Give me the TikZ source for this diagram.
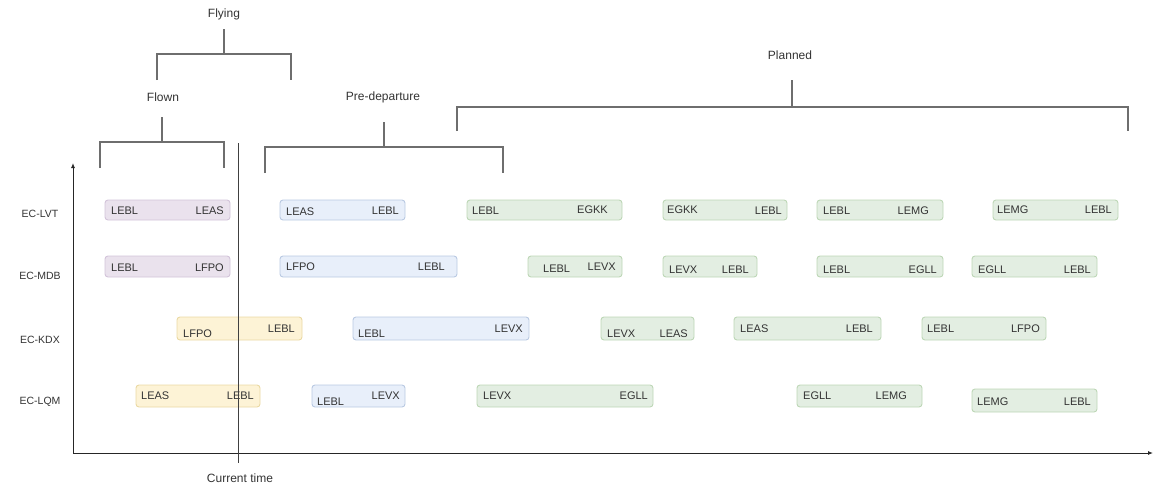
\documentclass[tikz,border=0pt]{standalone}
\usepackage{fontspec}
\setmainfont{Liberation Sans}
\usetikzlibrary{fit,arrows.meta}
\definecolor{pfill}{HTML}{EAE2ED}\definecolor{pline}{HTML}{D2C3D9}
\definecolor{bfill}{HTML}{E8EFFA}\definecolor{bline}{HTML}{B9C9E2}
\definecolor{gfill}{HTML}{E3EEE2}\definecolor{gline}{HTML}{BDD7B6}
\definecolor{yfill}{HTML}{FDF3D6}\definecolor{yline}{HTML}{EAD9A3}
\definecolor{txtc}{HTML}{333333}
\definecolor{brc}{HTML}{6E6E6E}
\tikzset{
  flt/.style={rounded corners=3pt, line width=0.9pt, inner sep=0pt},
  pbox/.style={flt, draw=pline, fill=pfill},
  bbox/.style={flt, draw=bline, fill=bfill},
  gbox/.style={flt, draw=gline, fill=gfill},
  ybox/.style={flt, draw=yline, fill=yfill},
  txt/.style={inner sep=0pt, text=txtc, font=\fontsize{11}{13}\selectfont},
  rowlbl/.style={inner sep=0pt, text=txtc, font=\fontsize{10.5}{12}\selectfont},
  grp/.style={inner sep=0pt, text=txtc, font=\fontsize{12}{14}\selectfont},
  br/.style={draw=brc, line width=1.4pt},
  axis/.style={draw=black!85, line width=0.9pt},
}
\newcommand\flbox[6]{\node[#1, fit={(#2,#3) (#4,#5)}] (#6) {};}
\newcommand\tl[3]{\node[txt, anchor=west] at (#1,#2) {#3};}
\newcommand\tr[3]{\node[txt, anchor=east] at (#1,#2) {#3};}
\begin{document}
\begin{tikzpicture}[x=1pt,y=-1pt]
\useasboundingbox (0,0) rectangle (1156,488);
% group labels and brackets
\node[grp] (flying) at (224,14) {Flying};
\node[grp] (flown) at (163,97) {Flown};
\node[grp] (predep) at (383,97) {Pre-departure};
\node[grp] (planned) at (790,55) {Planned};
\draw[br] (224,29) -- (224,54);
\draw[br] (157,80) -- (157,54) -- (291,54) -- (291,80);
\draw[br] (162,117) -- (162,142);
\draw[br] (100,168) -- (100,142) -- (224,142) -- (224,168);
\draw[br] (384,122) -- (384,147);
\draw[br] (265,173) -- (265,147) -- (503,147) -- (503,173);
\draw[br] (792,80) -- (792,107);
\draw[br] (457,131) -- (457,107) -- (1128,107) -- (1128,131);
% axes
\coordinate (origin) at (73,453);
\coordinate (ytop) at (73,163);
\coordinate (xend) at (1153,453);
\draw[axis, -{Latex[length=5pt,width=4pt]}] (origin) -- (ytop);
\draw[axis, -{Latex[length=5pt,width=4pt]}] (origin) -- (xend);
% row labels
\node[rowlbl] (lvt) at (40,214) {EC-LVT};
\node[rowlbl] (mdb) at (40,276) {EC-MDB};
\node[rowlbl] (kdx) at (40,340) {EC-KDX};
\node[rowlbl] (lqm) at (40,402) {EC-LQM};
% EC-LVT
\flbox{pbox}{105}{200}{230}{220}{a1}
\tl{111}{211}{LEBL}\tr{224}{211}{LEAS}
\flbox{bbox}{280}{200}{405}{220}{a2}
\tl{286}{212}{LEAS}\tr{399}{211}{LEBL}
\flbox{gbox}{467}{200}{622}{220}{a3}
\tl{472}{211}{LEBL}\tr{608}{210}{EGKK}
\flbox{gbox}{663}{200}{787}{220}{a4}
\tl{667}{210}{EGKK}\tr{782}{211}{LEBL}
\flbox{gbox}{817}{200}{943}{220}{a5}
\tl{823}{211}{LEBL}\tr{929}{211}{LEMG}
\flbox{gbox}{993}{200}{1118}{220}{a6}
\tl{997}{210}{LEMG}\tr{1112}{210}{LEBL}
% EC-MDB
\flbox{pbox}{105}{256}{230}{277}{b1}
\tl{111}{268}{LEBL}\tr{224}{268}{LFPO}
\flbox{bbox}{280}{256}{457}{277}{b2}
\tl{286}{267}{LFPO}\tr{445}{267}{LEBL}
\flbox{gbox}{528}{256}{622}{277}{b3}
\tl{543}{269}{LEBL}\tr{616}{267}{LEVX}
\flbox{gbox}{663}{256}{757}{277}{b4}
\tl{669}{270}{LEVX}\tr{749}{270}{LEBL}
\flbox{gbox}{817}{256}{943}{277}{b5}
\tl{823}{270}{LEBL}\tr{937}{270}{EGLL}
\flbox{gbox}{972}{256}{1097}{277}{b6}
\tl{978}{270}{EGLL}\tr{1091}{270}{LEBL}
% EC-KDX
\flbox{ybox}{177}{317}{302}{340}{c1}
\tl{183}{334}{LFPO}\tr{295}{329}{LEBL}
\flbox{bbox}{353}{317}{529}{340}{c2}
\tl{358}{334}{LEBL}\tr{523}{329}{LEVX}
\flbox{gbox}{601}{317}{694}{340}{c3}
\tl{607}{334}{LEVX}\tr{688}{334}{LEAS}
\flbox{gbox}{734}{317}{881}{340}{c4}
\tl{740}{329}{LEAS}\tr{873}{329}{LEBL}
\flbox{gbox}{922}{317}{1046}{340}{c5}
\tl{927}{329}{LEBL}\tr{1040}{329}{LFPO}
% EC-LQM
\flbox{ybox}{136}{385}{260}{407}{d1}
\tl{141}{396}{LEAS}\tr{254}{396}{LEBL}
\flbox{bbox}{312}{385}{405}{407}{d2}
\tl{317}{402}{LEBL}\tr{400}{396}{LEVX}
\flbox{gbox}{477}{385}{653}{407}{d3}
\tl{483}{396}{LEVX}\tr{648}{396}{EGLL}
\flbox{gbox}{797}{385}{922}{407}{d4}
\tl{803}{396}{EGLL}\tr{907}{396}{LEMG}
\flbox{gbox}{972}{389}{1097}{412}{d5}
\tl{977}{402}{LEMG}\tr{1091}{402}{LEBL}
% current time
\coordinate (ctop) at (238,143);
\coordinate (cbot) at (238,463);
\draw[draw=black!75, line width=0.9pt] (ctop) -- (cbot);
\node[grp] (ctime) at (240,478) {Current time};
\end{tikzpicture}
\end{document}
